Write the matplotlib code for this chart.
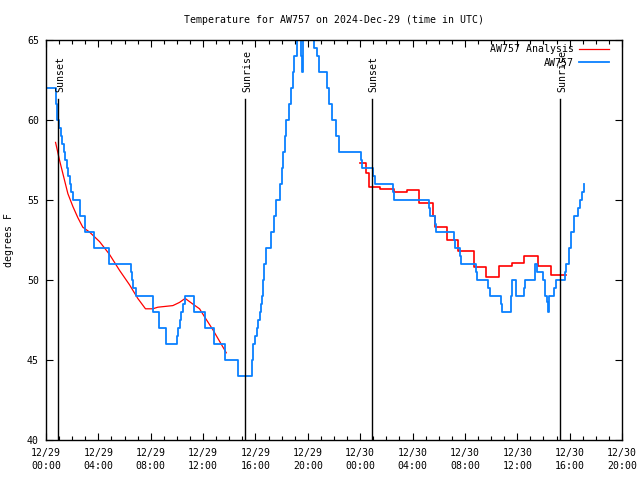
import numpy as np
import matplotlib
matplotlib.use("Agg")
import matplotlib.pyplot as plt
from matplotlib.ticker import MultipleLocator, FixedLocator

# ---- data (hours since 2024-12-29 00:00 UTC, degrees F) ----
obs_hours = [0.11, 0.76, 0.84, 0.99, 1.11, 1.22, 1.34, 1.45, 1.57, 1.68, 1.80, 1.91, 2.05,
             2.61, 2.99, 3.63, 4.85, 6.46, 6.57, 6.68, 6.84, 8.14, 8.67, 9.13,
             9.97, 10.08, 10.20, 10.31, 10.43, 10.58, 11.34, 12.15, 12.87, 13.67, 14.67,
             15.70, 15.81, 15.93, 16.08, 16.23, 16.35, 16.42, 16.50, 16.58, 16.69, 16.82,
             17.19, 17.38, 17.57, 17.84, 17.99, 18.14, 18.26, 18.37, 18.53, 18.68, 18.83,
             18.98, 19.21, 19.33, 19.50, 19.56, 19.65, 19.79, 20.38, 20.51, 20.67, 20.84,
             21.48, 21.62, 21.81, 22.19, 22.37, 24.03, 24.13, 24.98, 25.13, 26.47, 26.55,
             29.22, 29.30, 29.68, 29.76, 31.13, 31.21, 31.59, 31.67, 32.81, 32.91, 33.80,
             33.88, 34.76, 34.85, 35.52, 35.58, 35.92, 36.52, 36.61, 37.39, 37.49, 37.95,
             38.10, 38.26, 38.36, 38.46, 38.81, 38.98, 39.61, 39.74, 39.94, 40.12, 40.37,
             40.63, 40.76, 40.91, 41.08]
obs_temps = [62, 61, 60, 59.5, 59, 58.5, 58, 57.5, 57, 56.5, 56, 55.5, 55,
             54, 53, 52, 51, 50.5, 50, 49.5, 49, 48, 47, 46,
             46.5, 47, 47.5, 48, 48.5, 49, 48, 47, 46, 45, 44,
             45, 46, 46.5, 47, 47.5, 48, 48.5, 49, 50, 51, 52,
             53, 54, 55, 56, 57, 58, 59, 60, 61, 62, 63,
             64, 65, 66, 64, 63, 65, 66, 65, 64.5, 64, 63,
             62, 61, 60, 59, 58, 57.5, 57, 56.5, 56, 55.5, 55,
             54.5, 54, 53.5, 53, 52.5, 52, 51.5, 51, 50.5, 50, 49.5,
             49, 48.5, 48, 49, 50, 49, 49.5, 50, 51, 50.5, 50,
             49, 48.6, 48, 49, 49.5, 50, 50.5, 51, 52, 53, 54,
             54.5, 55, 55.5, 56]

ana1_hours = [0.73, 1.03, 1.41, 1.67, 2.05, 2.43, 2.81, 3.32, 4.09, 4.85, 5.62, 6.38, 7.01,
              7.60, 8.16, 8.54, 9.69, 10.20, 10.63, 11.21, 11.73, 12.11, 12.74, 13.38, 13.77]
ana1_temps = [58.6, 57.5, 56.25, 55.4, 54.6, 53.9, 53.3, 53.0, 52.4, 51.6, 50.6, 49.7, 48.85,
              48.2, 48.2, 48.3, 48.4, 48.6, 48.85, 48.5, 48.2, 47.7, 46.9, 46.0, 45.45]

ana2_hours = [23.99, 24.48, 24.64, 25.48, 26.62, 27.56, 28.53, 29.53, 29.68, 30.60, 31.44,
              32.66, 33.58, 34.57, 35.56, 36.55, 37.55, 38.54, 39.76]
ana2_temps = [57.3, 56.7, 55.8, 55.7, 55.5, 55.6, 54.8, 54.0, 53.3, 52.5, 51.8,
              50.8, 50.2, 50.9, 51.05, 51.5, 50.9, 50.3, 50.3]

sun_hours = [0.94, 15.2, 24.87, 39.3]
sun_labels = ["Sunset", "Sunrise", "Sunset", "Sunrise"]

xtick_hours = [0, 4, 8, 12, 16, 20, 24, 28, 32, 36, 40, 44]
xtick_labels = ["12/29\n00:00", "12/29\n04:00", "12/29\n08:00", "12/29\n12:00",
                "12/29\n16:00", "12/29\n20:00", "12/30\n00:00", "12/30\n04:00",
                "12/30\n08:00", "12/30\n12:00", "12/30\n16:00", "12/30\n20:00"]

FONT = "DejaVu Sans Mono"
FS = 7.1
plt.rcParams["font.family"] = FONT
plt.rcParams["font.size"] = FS

fig = plt.figure(figsize=(6.4, 4.8), dpi=100)
ax = fig.add_axes([46 / 640, 40 / 480, 576 / 640, 400 / 480])

red = "#ff0000"
blue = "#0a80ff"

ax.plot(ana1_hours, ana1_temps, color=red, lw=0.9, label="AW757 Analysis")
ax.plot(ana2_hours, ana2_temps, color=red, lw=1.2, drawstyle="steps-post")
ax.plot(obs_hours, obs_temps, color=blue, lw=1.3, drawstyle="steps-post", label="AW757")

for h, lab in zip(sun_hours, sun_labels):
    ax.axvline(h, ymin=0, ymax=(440 - 99) / 400, color="black", lw=1.0)
    ax.text(h + 0.15, 65 - (92 - 40) / 16, lab, rotation=90, ha="center", va="bottom",
            fontsize=FS)

ax.set_xlim(0, 44)
ax.set_ylim(40, 65)
ax.xaxis.set_major_locator(FixedLocator(xtick_hours))
ax.set_xticklabels(xtick_labels, linespacing=1.35)
ax.xaxis.set_minor_locator(MultipleLocator(1))
ax.yaxis.set_major_locator(MultipleLocator(5))
ax.tick_params(which="both", direction="in", top=True, right=True, labelsize=FS)
ax.tick_params(which="major", length=5, width=0.8)
ax.tick_params(which="minor", length=3, width=0.8)
ax.tick_params(axis="x", pad=6)
ax.tick_params(axis="y", pad=5)
for s in ax.spines.values():
    s.set_linewidth(1.0)

ax.set_ylabel("degrees F", fontsize=FS)
ax.yaxis.set_label_coords(-0.055, 0.5)
ax.set_title("Temperature for AW757 on 2024-Dec-29 (time in UTC)", fontsize=FS, pad=12)

ax.legend(loc="upper right", bbox_to_anchor=((609 - 46) / 576, (440 - 44) / 400),
          frameon=False, markerfirst=False, handlelength=3.0, handletextpad=0.6,
          borderpad=0, borderaxespad=0, labelspacing=0.4, fontsize=FS)

fig.savefig("out.png", dpi=100)
